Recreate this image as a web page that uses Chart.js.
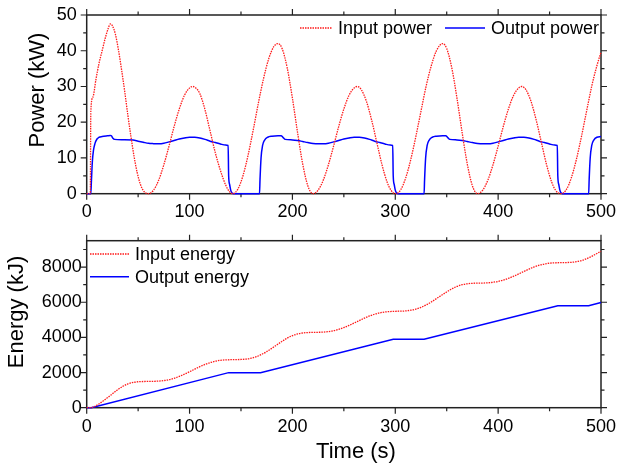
<!DOCTYPE html>
<html>
<head>
<meta charset="utf-8">
<script src="https://cdn.jsdelivr.net/npm/chart.js@4.4.0/dist/chart.umd.min.js"></script>
<style>
  html, body { margin: 0; padding: 0; background: #fff; }
  #wrap { position: relative; width: 617px; height: 468px; }
  canvas { position: absolute; left: 0; display: block; }
  #powerChart { top: 0; }
  #energyChart { top: 232px; }
</style>
</head>
<body>
<div id="wrap">
  <canvas id="powerChart" width="617" height="232"></canvas>
  <canvas id="energyChart" width="617" height="236"></canvas>
</div>
<script>
// --- power (kW) vs time (s) ---
const inPowerTime = [0, 3.5, 4, 6, 9, 12, 15, 18, 21, 23, 25, 28, 31, 34, 37, 40, 43, 46, 49, 52, 55, 58, 60,
  65, 70, 75, 80, 85, 90, 95, 100, 103, 106, 110, 115, 120, 125, 130, 135, 139, 142,
  147, 152, 157, 162, 167, 172, 177, 182, 186, 190, 195, 200, 205, 210, 215, 220,
  225, 230, 235, 240, 245, 250, 255, 260, 263, 267, 272, 277, 282, 287, 292, 296, 300,
  305, 310, 315, 320, 325, 330, 335, 340, 346, 350, 355, 360, 365, 370, 375, 380,
  385, 390, 395, 400, 405, 410, 415, 420, 423, 427, 432, 437, 442, 447, 452, 456, 461,
  466, 471, 476, 481, 486, 491, 496, 500];
const inPowerKW = [0, 0, 23, 27, 32, 36.5, 40, 43.5, 46.3, 47.5, 47, 44.5, 40, 34.5, 28.5, 22, 16, 10.5, 6, 2.8, 0.9, 0.1, 0,
  1.0, 3.8, 8.1, 13.3, 18.8, 23.7, 27.5, 29.6, 30, 29.6, 28, 23.5, 17.5, 11.5, 6.5, 2.5, 0.5, 0,
  1.3, 5.1, 10.9, 18.0, 25.5, 32.3, 37.8, 41.2, 42, 40.6, 35.1, 26.7, 17.1, 8.3, 2.2, 0,
  1.0, 3.8, 8.1, 13.3, 18.8, 23.7, 27.5, 29.6, 30, 29.1, 25.8, 20.6, 14.4, 8.2, 3.3, 0.9, 0,
  1.0, 4.3, 9.5, 16.0, 23.1, 30.1, 35.8, 40.0, 42, 40.6, 35.1, 26.7, 17.1, 8.3, 2.2, 0,
  1.0, 3.8, 8.1, 13.3, 18.8, 23.7, 27.5, 29.6, 30, 29.1, 25.8, 20.6, 14.4, 8.2, 3.3, 0.9, 0,
  1.0, 4.3, 9.5, 16.0, 23.1, 30.1, 35.8, 39.6];

const outPowerTime = [0, 4, 4.5, 5.5, 6.5, 8, 10, 12, 15, 20, 23, 24, 25.5, 27, 35, 45, 50, 55, 60, 65, 70, 75, 80, 85, 90, 95, 100, 105, 110, 115, 120, 125, 130, 135, 137.5, 138, 139, 140, 141, 142.5,
  168, 168.5, 169.5, 171, 173, 176, 180, 186, 189, 191, 193, 200, 205, 210, 215, 220, 225, 230, 235, 240, 245, 250, 255, 260, 265, 270, 275, 280, 285, 290, 295, 297.5, 298, 299, 300, 301, 302.5,
  328, 328.5, 329.5, 331, 333, 336, 340, 346, 349, 351, 353, 360, 365, 370, 375, 380, 385, 390, 395, 400, 405, 410, 415, 420, 425, 430, 435, 440, 445, 450, 455, 457.5, 458, 459, 460, 461, 462.5,
  488, 488.5, 489.5, 491, 493, 496, 500];
const outPowerKW = [0, 0, 3, 9, 12, 14, 15.3, 15.8, 16.0, 16.2, 16.3, 16.2, 15.5, 15.2, 15.1, 15.0, 14.7, 14.4, 14.1, 14.0, 13.95, 14.1, 14.5, 14.9, 15.3, 15.6, 15.8, 15.8, 15.6, 15.2, 14.7, 14.3, 13.9, 13.6, 13.5, 5, 2.5, 1.0, 0.3, 0,
  0, 4, 10, 13.5, 15.0, 15.8, 16.1, 16.2, 16.2, 15.7, 15.2, 15.05, 14.9, 14.6, 14.3, 14.05, 13.95, 13.95, 14.1, 14.5, 14.9, 15.3, 15.6, 15.8, 15.8, 15.6, 15.2, 14.7, 14.3, 13.9, 13.6, 13.5, 5, 2.5, 1.0, 0.3, 0,
  0, 4, 10, 13.5, 15.0, 15.8, 16.1, 16.2, 16.2, 15.7, 15.2, 15.05, 14.9, 14.6, 14.3, 14.05, 13.95, 13.95, 14.1, 14.5, 14.9, 15.3, 15.6, 15.8, 15.8, 15.6, 15.2, 14.7, 14.3, 13.9, 13.6, 13.5, 5, 2.5, 1.0, 0.3, 0,
  0, 4, 10, 13.5, 15.0, 15.8, 16.0];

// --- energy (kJ) vs time (s) ---
const inEnergyTime = [0, 4, 10, 15, 20, 25, 30, 35, 40, 45, 50, 55, 60, 65, 70, 75, 80, 85, 90, 95,
  100, 105, 110, 115, 120, 125, 130, 135, 140, 145, 150, 155, 160, 165, 170, 175, 180, 185, 190, 195,
  200, 205, 210, 215, 220, 225, 230, 235, 240, 245, 250, 255, 260, 265, 270, 275, 280, 285, 290, 295,
  300, 305, 310, 315, 320, 325, 330, 335, 340, 345, 350, 355, 360, 365, 370, 375, 380, 385, 390, 395,
  400, 405, 410, 415, 420, 425, 430, 435, 440, 445, 450, 455, 460, 465, 470, 475, 480, 485, 490, 495, 500];
const inEnergyKJ = [0, 0, 150, 340, 560, 790, 1020, 1210, 1350, 1435, 1475, 1490, 1495, 1500, 1515, 1545, 1595, 1675, 1780, 1905,
  2045, 2190, 2335, 2460, 2565, 2645, 2695, 2720, 2730, 2735, 2745, 2765, 2815, 2900, 3030, 3190, 3380, 3580, 3780, 3960,
  4100, 4195, 4250, 4275, 4285, 4290, 4300, 4330, 4380, 4455, 4560, 4680, 4815, 4955, 5095, 5220, 5320, 5395, 5445, 5470,
  5485, 5490, 5505, 5545, 5610, 5710, 5845, 6015, 6205, 6400, 6585, 6760, 6900, 6995, 7050, 7075, 7085, 7090, 7105, 7135,
  7185, 7260, 7360, 7480, 7610, 7750, 7885, 8005, 8105, 8175, 8220, 8240, 8250, 8255, 8265, 8295, 8355, 8450, 8580, 8740, 8900];

const outEnergyTime = [0, 4.5, 138, 169, 298, 328, 458, 488, 500];
const outEnergyKJ = [0, 0, 1995, 1995, 3895, 3895, 5800, 5800, 5990];

const timeTicks = [0, 100, 200, 300, 400, 500];
const powerTicks = [0, 10, 20, 30, 40, 50];
const energyTicks = [0, 2000, 4000, 6000, 8000];

const RED = '#ff1a1a';
const BLUE = '#0000ff';
const FONT = "'Liberation Sans', Arial, Helvetica, sans-serif";
const DOTS = [1.5, 1];

Chart.defaults.font.family = FONT;
Chart.defaults.color = '#000';

function pts(xs, ys) {
    return xs.map((x, i) => ({ x: x, y: ys[i] }));
}

// box round the plot with outward ticks on all four sides, plus titles and legend
const framePlugin = {
    id: 'frame',
    beforeDatasetsDraw(chart, args, opts) {
        const ctx = chart.ctx;
        const a = chart.chartArea;
        const x = chart.scales.x;
        const y = chart.scales.y;
        const isMajor = (v, step) => Math.abs(v / step - Math.round(v / step)) < 1e-6;
        ctx.save();
        ctx.strokeStyle = '#222';
        ctx.lineWidth = 1.5;
        ctx.strokeRect(a.left, a.top, a.right - a.left, a.bottom - a.top);
        ctx.lineWidth = 1.2;
        ctx.beginPath();
        for (let v = x.min; v <= x.max + 1e-6; v += opts.xMinor) {
            const px = x.getPixelForValue(v);
            const len = isMajor(v, opts.xMajor) ? 6 : 3.5;
            ctx.moveTo(px, a.bottom); ctx.lineTo(px, a.bottom + len);
            ctx.moveTo(px, a.top); ctx.lineTo(px, a.top - len);
        }
        for (let v = y.min; v <= y.max + 1e-6; v += opts.yMinor) {
            const py = y.getPixelForValue(v);
            const len = isMajor(v, opts.yMajor) ? 6 : 3.5;
            ctx.moveTo(a.left, py); ctx.lineTo(a.left - len, py);
            ctx.moveTo(a.right, py); ctx.lineTo(a.right + len, py);
        }
        ctx.stroke();
        ctx.restore();
    },
    afterDraw(chart, args, opts) {
        const ctx = chart.ctx;
        ctx.save();
        ctx.fillStyle = '#000';
        ctx.textBaseline = 'middle';
        (opts.titles || []).forEach(t => {
            ctx.save();
            ctx.font = '22px ' + FONT;
            ctx.textAlign = 'center';
            ctx.translate(t.x, t.y);
            if (t.rotate) ctx.rotate(-Math.PI / 2);
            ctx.fillText(t.text, 0, 0);
            ctx.restore();
        });
        ctx.font = '18px ' + FONT;
        ctx.textAlign = 'left';
        (opts.legend || []).forEach(it => {
            ctx.save();
            ctx.strokeStyle = it.color;
            ctx.lineWidth = it.dash ? 1.3 : 1.5;
            ctx.setLineDash(it.dash || []);
            ctx.beginPath();
            ctx.moveTo(it.x, it.y);
            ctx.lineTo(it.x + it.len, it.y);
            ctx.stroke();
            ctx.restore();
            ctx.fillText(it.text, it.x + it.len + 6, it.y + 1);
        });
        ctx.restore();
    }
};

function lineSet(label, data, color, dashed, straight) {
    return {
        label: label,
        data: data,
        borderColor: color,
        borderWidth: dashed ? 1.3 : 1.5,
        borderDash: dashed ? DOTS : [],
        pointRadius: 0,
        fill: false,
        cubicInterpolationMode: straight ? 'default' : 'monotone',
        tension: 0,
        clip: 4
    };
}

function axisX(height, pad) {
    return {
        type: 'linear', min: 0, max: 500,
        grid: { display: false, drawTicks: false },
        border: { display: false },
        afterBuildTicks: s => { s.ticks = timeTicks.map(v => ({ value: v })); },
        ticks: { padding: pad, maxRotation: 0, font: { size: 18 }, color: '#000', callback: v => String(v) },
        afterFit: s => { s.height = height; s.paddingLeft = 0; s.paddingRight = 0; }
    };
}

function axisY(min, max, tickList, pad) {
    return {
        type: 'linear', min: min, max: max,
        grid: { display: false, drawTicks: false },
        border: { display: false },
        afterBuildTicks: s => { s.ticks = tickList.map(v => ({ value: v })); },
        ticks: { padding: pad, font: { size: 18 }, color: '#000', callback: v => String(v) },
        afterFit: s => { s.width = 86.7; s.paddingTop = 0; s.paddingBottom = 0; }
    };
}

const powerChart = new Chart(document.getElementById('powerChart').getContext('2d'), {
    type: 'line',
    data: {
        datasets: [
            lineSet('Input power', pts(inPowerTime, inPowerKW), RED, true, false),
            lineSet('Output power', pts(outPowerTime, outPowerKW), BLUE, false, false)
        ]
    },
    options: {
        responsive: false,
        animation: false,
        events: [],
        layout: { padding: { left: 0, right: 16, top: 15, bottom: 0 } },
        scales: {
            x: axisX(38.3, 8),
            y: axisY(0, 50, powerTicks, 10)
        },
        plugins: {
            legend: { display: false },
            tooltip: { enabled: false },
            frame: {
                xMajor: 100, xMinor: 50, yMajor: 10, yMinor: 5,
                titles: [{ text: 'Power (kW)', x: 38, y: 90, rotate: true }],
                legend: [
                    { text: 'Input power', x: 300, y: 28, len: 32, color: RED, dash: DOTS },
                    { text: 'Output power', x: 445, y: 28, len: 40, color: BLUE }
                ]
            }
        }
    },
    plugins: [framePlugin]
});

const energyChart = new Chart(document.getElementById('energyChart').getContext('2d'), {
    type: 'line',
    data: {
        datasets: [
            lineSet('Input energy', pts(inEnergyTime, inEnergyKJ), RED, true, false),
            lineSet('Output energy', pts(outEnergyTime, outEnergyKJ), BLUE, false, true)
        ]
    },
    options: {
        responsive: false,
        animation: false,
        events: [],
        layout: { padding: { left: 0, right: 16, top: 8.7, bottom: 0 } },
        scales: {
            x: axisX(60.3, 9),
            y: axisY(0, 9500, energyTicks, 5)
        },
        plugins: {
            legend: { display: false },
            tooltip: { enabled: false },
            frame: {
                xMajor: 100, xMinor: 50, yMajor: 2000, yMinor: 1000,
                titles: [
                    { text: 'Energy (kJ)', x: 17, y: 80, rotate: true },
                    { text: 'Time (s)', x: 356, y: 220 }
                ],
                legend: [
                    { text: 'Input energy', x: 90, y: 22, len: 39, color: RED, dash: DOTS },
                    { text: 'Output energy', x: 90, y: 44.7, len: 39, color: BLUE }
                ]
            }
        }
    },
    plugins: [framePlugin]
});
</script>
</body>
</html>
